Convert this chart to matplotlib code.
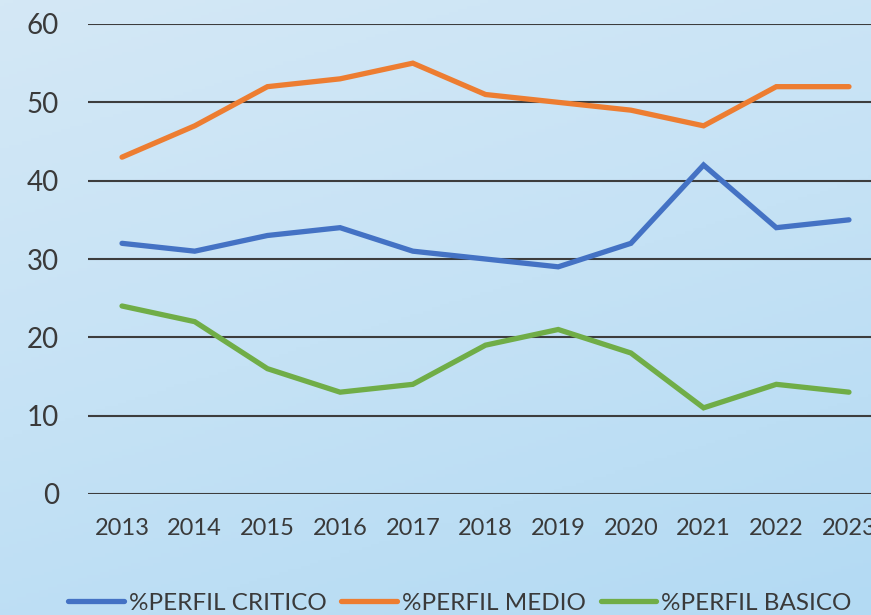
import matplotlib
matplotlib.use("Agg")
import matplotlib.pyplot as plt
import numpy as np
from matplotlib.colors import LinearSegmentedColormap

years = ["2013", "2014", "2015", "2016", "2017", "2018", "2019", "2020", "2021", "2022", "2023"]
critico = [32, 31, 33, 34, 31, 30, 29, 32, 42, 34, 35]
medio = [43, 47, 52, 53, 55, 51, 50, 49, 47, 52, 52]
basico = [24, 22, 16, 13, 14, 19, 21, 18, 11, 14, 13]
series_names = ["%PERFIL CRITICO", "%PERFIL MEDIO", "%PERFIL BASICO"]
colors = ["#4472C4", "#ED7D31", "#70AD47"]
yticks = [0, 10, 20, 30, 40, 50, 60]

plt.rcParams['font.family'] = ['Lato', 'DejaVu Sans']

W, H = 871, 615
fig = plt.figure(figsize=(W / 100, H / 100), dpi=100)

# background gradient
bg = fig.add_axes([0, 0, 1, 1], zorder=-10)
gx, gy = np.meshgrid(np.linspace(0, 1, 200), np.linspace(0, 1, 200))
g = 0.3 * gx + 0.7 * gy  # 0 top-left -> 1 bottom-right (image row 0 = top)
cmap = LinearSegmentedColormap.from_list("bgc", ["#d4e8f5", "#c5e2f5", "#b3daf3"])
bg.imshow(g, cmap=cmap, aspect="auto", extent=[0, 1, 0, 1], origin="upper")
bg.axis("off")

left = 88 / W
bottom = (H - 494) / H
top = (H - 24) / H
right_px = 883
ax = fig.add_axes([left, bottom, (right_px - 88) / W, top - bottom])
ax.patch.set_alpha(0)

x = np.arange(len(years))
for vals, name, c in zip([critico, medio, basico], series_names, colors):
    ax.plot(x, vals, color=c, lw=3.8, solid_capstyle="round", solid_joinstyle="miter", label=name, zorder=3)

ax.set_xlim(-0.468, len(years) - 1 + 0.468)
ax.set_ylim(0, 60)
ax.set_yticks(yticks)
ax.set_yticklabels([str(v) for v in yticks])
ax.set_xticks(x)
ax.set_xticklabels(years)
ax.yaxis.grid(True, color="#3d3d3d", lw=1.5, zorder=1)
ax.set_axisbelow(True)
for s in ax.spines.values():
    s.set_visible(False)
ax.tick_params(axis="y", length=0, pad=21, labelsize=20, labelcolor="#3a3a3a")
ax.tick_params(axis="x", length=0, pad=17, labelsize=17, labelcolor="#3a3a3a")
for t in ax.get_yticklabels():
    t.set_clip_on(False)

leg = fig.legend(loc="center", bbox_to_anchor=(460 / W, 12 / H), ncol=3, frameon=False,
                 fontsize=17.5, handlelength=2.3, handletextpad=0.2, columnspacing=0.6,
                 labelcolor="#3a3a3a")
for line in leg.get_lines():
    line.set_linewidth(3.8)
    line.set_solid_capstyle("round")

fig.savefig("out.png", dpi=100)
